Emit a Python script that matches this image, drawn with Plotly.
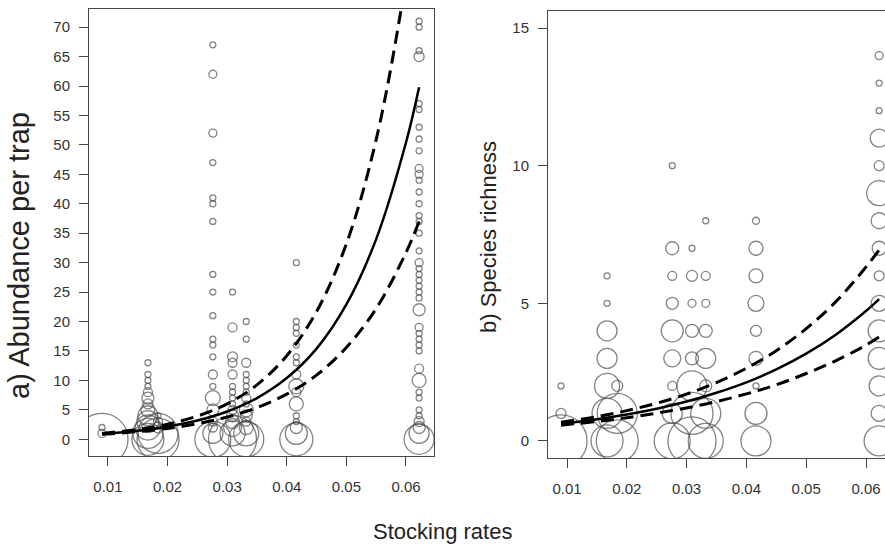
import plotly.graph_objects as go

# ---------------- data ----------------
# stocking-rate columns (shared by both panels)
col_x = [0.0090, 0.0167, 0.0184, 0.0276, 0.0309, 0.0332, 0.0416, 0.0622]

# a) abundance per trap: y values and bubble sizes (px) per column
abund_y = [
    [2, 1, 0],
    [13, 11, 10, 9, 8, 7, 6, 5, 4, 3, 2, 1, 0],
    [4, 3, 2, 1, 0],
    [67, 62, 52, 47, 41, 40, 37, 28, 25, 21, 17, 16, 14, 11, 9, 7, 5, 3, 2, 1, 0],
    [25, 19, 14, 13, 11, 9, 8, 7, 6, 5, 4, 3, 2, 1, 0],
    [20, 17, 13, 11, 10, 9, 8, 7, 6, 5, 4, 3, 2, 1, 0],
    [30, 20, 19, 18, 16, 14, 13, 11, 9, 8, 6, 4, 3, 2, 1, 0],
    [71, 70, 66, 65, 57, 56, 53, 51, 49, 46, 45, 44, 42, 40, 38, 37, 35, 32, 30, 29,
     28, 27, 26, 25, 24, 22, 19, 18, 17, 16, 15, 12, 10, 8, 7, 5, 4, 3, 2, 1, 0],
]
abund_size = [
    [6, 8, 52],
    [6, 6, 6, 6, 9, 12, 10, 14, 20, 22, 25, 30, 32],
    [6, 9, 11, 40, 42],
    [6, 8, 8, 6, 6, 6, 6, 6, 6, 6, 6, 6, 6, 9, 6, 15, 12, 9, 9, 20, 36],
    [6, 9, 10, 9, 9, 6, 6, 6, 6, 9, 12, 14, 18, 25, 48],
    [6, 6, 9, 6, 6, 6, 6, 9, 6, 14, 12, 9, 14, 25, 35],
    [6, 6, 6, 6, 6, 6, 6, 9, 15, 9, 14, 6, 6, 12, 22, 33],
    [6, 6, 6, 10, 6, 6, 6, 6, 6, 8, 8, 6, 6, 6, 6, 6, 6, 6, 8, 6,
     6, 6, 6, 6, 6, 12, 8, 6, 6, 6, 6, 9, 14, 6, 6, 6, 6, 10, 12, 20, 30],
]

# b) species richness
rich_y = [
    [2, 1, 0],
    [6, 5, 4, 3, 2, 1, 0],
    [2, 1, 0],
    [10, 7, 6, 5, 4, 3, 2, 1, 0],
    [7, 6, 5, 4, 3, 2, 1, 0],
    [8, 6, 5, 4, 3, 2, 1, 0],
    [8, 7, 6, 5, 4, 3, 2, 1, 0],
    [14, 13, 12, 11, 10, 9, 8, 7, 6, 5, 4, 3, 2, 1, 0],
]
rich_size = [
    [6, 10, 52],
    [6, 6, 20, 20, 25, 30, 32],
    [11, 40, 42],
    [6, 13, 9, 12, 22, 17, 9, 20, 36],
    [6, 11, 8, 13, 13, 30, 42, 48],
    [6, 9, 8, 13, 20, 12, 30, 35],
    [7, 14, 14, 16, 11, 14, 6, 22, 30],
    [8, 6, 6, 18, 10, 25, 16, 14, 10, 16, 22, 22, 20, 16, 30],
]

# fitted curves
curve_x = [0.009, 0.015, 0.02, 0.025, 0.03, 0.035, 0.04, 0.045, 0.05, 0.055, 0.06, 0.0622]
abund_fit = [0.9, 1.44, 2.14, 3.18, 4.72, 7.0, 10.4, 15.4, 22.9, 34.0, 50.4, 59.8]
abund_hi = [1.0, 1.67, 2.56, 3.93, 6.02, 9.24, 14.2, 21.7, 33.2, 50.9, 78.1, 94.6]
abund_lo = [0.85, 1.30, 1.85, 2.64, 3.77, 5.38, 7.67, 10.9, 15.6, 22.2, 31.7, 37.0]
rich_fit = [0.62, 0.79, 0.96, 1.17, 1.43, 1.75, 2.13, 2.60, 3.17, 3.87, 4.72, 5.15]
rich_hi = [0.68, 0.88, 1.10, 1.37, 1.70, 2.12, 2.64, 3.28, 4.08, 5.07, 6.32, 6.94]
rich_lo = [0.57, 0.71, 0.84, 1.01, 1.20, 1.43, 1.71, 2.04, 2.45, 2.92, 3.48, 3.78]

x_ticks = [0.01, 0.02, 0.03, 0.04, 0.05, 0.06]
x_ticktext = ["0.01", "0.02", "0.03", "0.04", "0.05", "0.06"]
a_yticks = list(range(0, 71, 5))
b_yticks = [0, 5, 10, 15]

title_a = "a) Abundance per trap"
title_b = "b) Species richness"
title_x = "Stocking rates"

# ---------------- figure ----------------
W, H = 885, 550
fig = go.Figure()

def flat(ys, ss):
    xs, yy, sz = [], [], []
    for cx, cy, cs in zip(col_x, ys, ss):
        for v, s in zip(cy, cs):
            xs.append(cx); yy.append(v); sz.append(s)
    return xs, yy, sz

circ_col = "#505050"
for (ys, ss, xa, ya) in [(abund_y, abund_size, "x", "y"), (rich_y, rich_size, "x2", "y2")]:
    xs, yy, sz = flat(ys, ss)
    fig.add_trace(go.Scatter(
        x=xs, y=yy, mode="markers", xaxis=xa, yaxis=ya,
        marker=dict(symbol="circle-open", size=sz, color=circ_col,
                    line=dict(width=1.3, color=circ_col)),
        hoverinfo="skip", showlegend=False))

for (fit, hi, lo, xa, ya) in [(abund_fit, abund_hi, abund_lo, "x", "y"),
                              (rich_fit, rich_hi, rich_lo, "x2", "y2")]:
    for yv in (hi, lo):
        fig.add_trace(go.Scatter(
            x=curve_x, y=yv, mode="lines", xaxis=xa, yaxis=ya,
            line=dict(color="black", width=3, dash="13px,7px", shape="spline"),
            hoverinfo="skip", showlegend=False))
    fig.add_trace(go.Scatter(
        x=curve_x, y=fit, mode="lines", xaxis=xa, yaxis=ya,
        line=dict(color="black", width=2.5, shape="spline"),
        hoverinfo="skip", showlegend=False))

tickfont = dict(family="Liberation Sans, Arial, sans-serif", size=15, color="#333333")
axcol = "#444444"
common = dict(showgrid=False, zeroline=False, showline=True, linecolor=axcol, linewidth=1,
              ticks="outside", ticklen=9, tickwidth=1, tickcolor=axcol, tickfont=tickfont)

fig.update_layout(
    width=W, height=H, margin=dict(l=0, r=0, t=0, b=0),
    paper_bgcolor="white", plot_bgcolor="white", showlegend=False,
    xaxis=dict(domain=[89 / W, 434 / W], range=[0.00682, 0.0647], anchor="y",
               tickvals=x_ticks, ticktext=x_ticktext, mirror=True,
               ticklabelstandoff=8, **common),
    yaxis=dict(domain=[1 - 456 / H, 1 - 9 / H], range=[-2.84, 73.08], anchor="x",
               tickvals=a_yticks, mirror=True, ticklabelstandoff=6, **common),
    xaxis2=dict(domain=[548 / W, 1.0], range=[0.006823, 0.063177], anchor="y2",
                tickvals=x_ticks, ticktext=x_ticktext, mirror=True,
                ticklabelstandoff=8, **common),
    yaxis2=dict(domain=[1 - 458 / H, 1 - 11 / H], range=[-0.62, 15.62], anchor="x2",
                tickvals=b_yticks, mirror=False, ticklabelstandoff=6, **common),
)

fig.add_annotation(text=title_a, x=19 / W, y=1 - 256 / H, xref="paper", yref="paper",
                   textangle=-90, showarrow=False,
                   font=dict(family="Liberation Sans, Arial, sans-serif", size=29, color="#222222"),
                   xanchor="center", yanchor="middle")
fig.add_annotation(text=title_b, x=488 / W, y=1 - 237 / H, xref="paper", yref="paper",
                   textangle=-90, showarrow=False,
                   font=dict(family="Liberation Sans, Arial, sans-serif", size=22, color="#222222"),
                   xanchor="center", yanchor="middle")
fig.add_annotation(text=title_x, x=442 / W, y=1 - 531 / H, xref="paper", yref="paper",
                   showarrow=False,
                   font=dict(family="Liberation Sans, Arial, sans-serif", size=22, color="#222222"),
                   xanchor="center", yanchor="middle")

fig.write_html("out.html")
